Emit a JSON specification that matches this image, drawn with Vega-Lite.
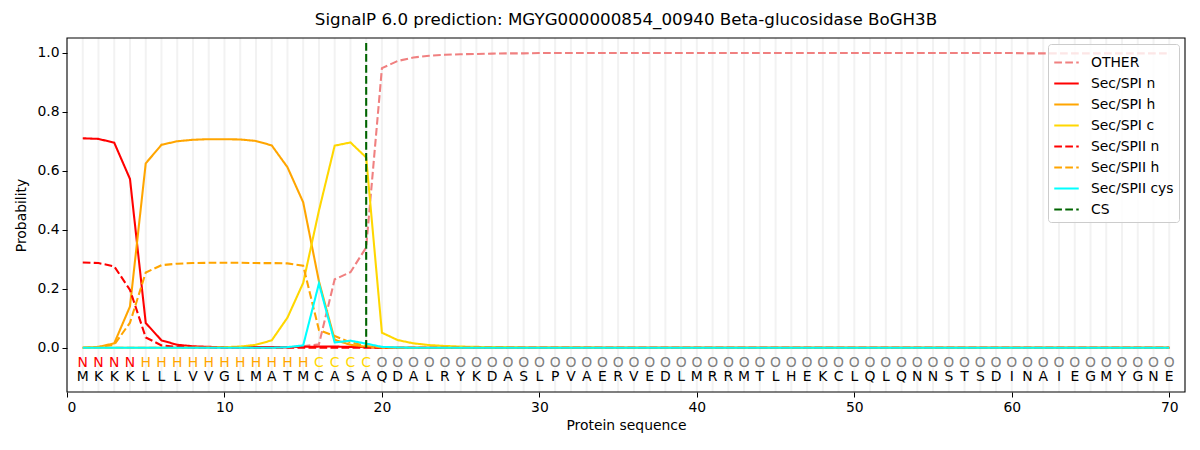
{
  "$schema": "https://vega.github.io/schema/vega-lite/v6.json",
  "autosize": "none",
  "width": 1118,
  "height": 354,
  "padding": {"left": 67, "top": 38, "right": 15, "bottom": 58},
  "config": {
    "font": "DejaVu Sans",
    "view": {"stroke": null},
    "axis": {
      "grid": false,
      "domain": false,
      "labelFontSize": 13.9,
      "titleFontSize": 13.9,
      "titleFontWeight": "normal",
      "labelColor": "#000000",
      "titleColor": "#000000",
      "tickColor": "#000000",
      "tickSize": 5,
      "labelPadding": 3
    },
    "legend": {
      "orient": "top-right",
      "offset": 6,
      "strokeColor": "#CCCCCC",
      "fillColor": "rgba(255,255,255,0.8)",
      "cornerRadius": 3,
      "padding": 5,
      "labelFontSize": 13.9,
      "labelColor": "#000000",
      "symbolType": "stroke",
      "symbolSize": 600,
      "symbolStrokeWidth": 2.08,
      "rowPadding": 0,
      "labelOffset": 11,
      "zindex": 2
    }
  },
  "title": {"text": "SignalP 6.0 prediction: MGYG000000854_00940 Beta-glucosidase BoGH3B", "fontSize": 16.7, "fontWeight": "normal", "color": "#000000", "offset": 8},
  "data": {
    "values": [
      {"pos": 1, "aa": "M", "lab": "N", "OTHER": 0.0, "Sec/SPI n": 0.710, "Sec/SPI h": 0.000, "Sec/SPI c": 0.000, "Sec/SPII n": 0.289, "Sec/SPII h": 0.000, "Sec/SPII cys": 0.000},
      {"pos": 2, "aa": "K", "lab": "N", "OTHER": 0.0, "Sec/SPI n": 0.708, "Sec/SPI h": 0.003, "Sec/SPI c": 0.000, "Sec/SPII n": 0.287, "Sec/SPII h": 0.002, "Sec/SPII cys": 0.000},
      {"pos": 3, "aa": "K", "lab": "N", "OTHER": 0.0, "Sec/SPI n": 0.695, "Sec/SPI h": 0.015, "Sec/SPI c": 0.000, "Sec/SPII n": 0.276, "Sec/SPII h": 0.010, "Sec/SPII cys": 0.000},
      {"pos": 4, "aa": "K", "lab": "N", "OTHER": 0.0, "Sec/SPI n": 0.572, "Sec/SPI h": 0.140, "Sec/SPI c": 0.000, "Sec/SPII n": 0.196, "Sec/SPII h": 0.085, "Sec/SPII cys": 0.000},
      {"pos": 5, "aa": "L", "lab": "H", "OTHER": 0.0, "Sec/SPI n": 0.084, "Sec/SPI h": 0.625, "Sec/SPI c": 0.000, "Sec/SPII n": 0.035, "Sec/SPII h": 0.255, "Sec/SPII cys": 0.000},
      {"pos": 6, "aa": "L", "lab": "H", "OTHER": 0.0, "Sec/SPI n": 0.025, "Sec/SPI h": 0.688, "Sec/SPI c": 0.000, "Sec/SPII n": 0.008, "Sec/SPII h": 0.280, "Sec/SPII cys": 0.000},
      {"pos": 7, "aa": "L", "lab": "H", "OTHER": 0.0, "Sec/SPI n": 0.010, "Sec/SPI h": 0.700, "Sec/SPI c": 0.000, "Sec/SPII n": 0.003, "Sec/SPII h": 0.285, "Sec/SPII cys": 0.000},
      {"pos": 8, "aa": "V", "lab": "H", "OTHER": 0.0, "Sec/SPI n": 0.005, "Sec/SPI h": 0.705, "Sec/SPI c": 0.001, "Sec/SPII n": 0.001, "Sec/SPII h": 0.287, "Sec/SPII cys": 0.000},
      {"pos": 9, "aa": "V", "lab": "H", "OTHER": 0.0, "Sec/SPI n": 0.003, "Sec/SPI h": 0.707, "Sec/SPI c": 0.001, "Sec/SPII n": 0.001, "Sec/SPII h": 0.288, "Sec/SPII cys": 0.000},
      {"pos": 10, "aa": "G", "lab": "H", "OTHER": 0.0, "Sec/SPI n": 0.002, "Sec/SPI h": 0.707, "Sec/SPI c": 0.002, "Sec/SPII n": 0.000, "Sec/SPII h": 0.288, "Sec/SPII cys": 0.000},
      {"pos": 11, "aa": "L", "lab": "H", "OTHER": 0.0, "Sec/SPI n": 0.002, "Sec/SPI h": 0.706, "Sec/SPI c": 0.004, "Sec/SPII n": 0.000, "Sec/SPII h": 0.288, "Sec/SPII cys": 0.000},
      {"pos": 12, "aa": "M", "lab": "H", "OTHER": 0.0, "Sec/SPI n": 0.002, "Sec/SPI h": 0.701, "Sec/SPI c": 0.010, "Sec/SPII n": 0.000, "Sec/SPII h": 0.287, "Sec/SPII cys": 0.000},
      {"pos": 13, "aa": "A", "lab": "H", "OTHER": 0.0, "Sec/SPI n": 0.002, "Sec/SPI h": 0.686, "Sec/SPI c": 0.025, "Sec/SPII n": 0.000, "Sec/SPII h": 0.287, "Sec/SPII cys": 0.000},
      {"pos": 14, "aa": "T", "lab": "H", "OTHER": 0.001, "Sec/SPI n": 0.002, "Sec/SPI h": 0.612, "Sec/SPI c": 0.102, "Sec/SPII n": 0.000, "Sec/SPII h": 0.286, "Sec/SPII cys": 0.002},
      {"pos": 15, "aa": "M", "lab": "H", "OTHER": 0.005, "Sec/SPI n": 0.003, "Sec/SPI h": 0.493, "Sec/SPI c": 0.220, "Sec/SPII n": 0.000, "Sec/SPII h": 0.278, "Sec/SPII cys": 0.008},
      {"pos": 16, "aa": "C", "lab": "C", "OTHER": 0.012, "Sec/SPI n": 0.004, "Sec/SPI h": 0.225, "Sec/SPI c": 0.465, "Sec/SPII n": 0.000, "Sec/SPII h": 0.060, "Sec/SPII cys": 0.218},
      {"pos": 17, "aa": "A", "lab": "C", "OTHER": 0.232, "Sec/SPI n": 0.004, "Sec/SPI h": 0.027, "Sec/SPI c": 0.685, "Sec/SPII n": 0.000, "Sec/SPII h": 0.040, "Sec/SPII cys": 0.018},
      {"pos": 18, "aa": "S", "lab": "C", "OTHER": 0.256, "Sec/SPI n": 0.003, "Sec/SPI h": 0.010, "Sec/SPI c": 0.696, "Sec/SPII n": 0.000, "Sec/SPII h": 0.018, "Sec/SPII cys": 0.024},
      {"pos": 19, "aa": "A", "lab": "C", "OTHER": 0.340, "Sec/SPI n": 0.002, "Sec/SPI h": 0.003, "Sec/SPI c": 0.645, "Sec/SPII n": 0.000, "Sec/SPII h": 0.006, "Sec/SPII cys": 0.014},
      {"pos": 20, "aa": "Q", "lab": "O", "OTHER": 0.948, "Sec/SPI n": 0.000, "Sec/SPI h": 0.000, "Sec/SPI c": 0.051, "Sec/SPII n": 0.000, "Sec/SPII h": 0.001, "Sec/SPII cys": 0.003},
      {"pos": 21, "aa": "D", "lab": "O", "OTHER": 0.972, "Sec/SPI n": 0.000, "Sec/SPI h": 0.000, "Sec/SPI c": 0.026, "Sec/SPII n": 0.000, "Sec/SPII h": 0.000, "Sec/SPII cys": 0.001},
      {"pos": 22, "aa": "A", "lab": "O", "OTHER": 0.984, "Sec/SPI n": 0.000, "Sec/SPI h": 0.000, "Sec/SPI c": 0.015, "Sec/SPII n": 0.000, "Sec/SPII h": 0.000, "Sec/SPII cys": 0.000},
      {"pos": 23, "aa": "L", "lab": "O", "OTHER": 0.990, "Sec/SPI n": 0.000, "Sec/SPI h": 0.000, "Sec/SPI c": 0.009, "Sec/SPII n": 0.000, "Sec/SPII h": 0.000, "Sec/SPII cys": 0.000},
      {"pos": 24, "aa": "R", "lab": "O", "OTHER": 0.993, "Sec/SPI n": 0.000, "Sec/SPI h": 0.000, "Sec/SPI c": 0.006, "Sec/SPII n": 0.000, "Sec/SPII h": 0.000, "Sec/SPII cys": 0.000},
      {"pos": 25, "aa": "Y", "lab": "O", "OTHER": 0.995, "Sec/SPI n": 0.000, "Sec/SPI h": 0.000, "Sec/SPI c": 0.004, "Sec/SPII n": 0.000, "Sec/SPII h": 0.000, "Sec/SPII cys": 0.000},
      {"pos": 26, "aa": "K", "lab": "O", "OTHER": 0.996, "Sec/SPI n": 0.000, "Sec/SPI h": 0.000, "Sec/SPI c": 0.003, "Sec/SPII n": 0.000, "Sec/SPII h": 0.000, "Sec/SPII cys": 0.000},
      {"pos": 27, "aa": "D", "lab": "O", "OTHER": 0.997, "Sec/SPI n": 0.000, "Sec/SPI h": 0.000, "Sec/SPI c": 0.002, "Sec/SPII n": 0.000, "Sec/SPII h": 0.000, "Sec/SPII cys": 0.000},
      {"pos": 28, "aa": "A", "lab": "O", "OTHER": 0.998, "Sec/SPI n": 0.000, "Sec/SPI h": 0.000, "Sec/SPI c": 0.002, "Sec/SPII n": 0.000, "Sec/SPII h": 0.000, "Sec/SPII cys": 0.000},
      {"pos": 29, "aa": "S", "lab": "O", "OTHER": 0.998, "Sec/SPI n": 0.000, "Sec/SPI h": 0.000, "Sec/SPI c": 0.001, "Sec/SPII n": 0.000, "Sec/SPII h": 0.000, "Sec/SPII cys": 0.000},
      {"pos": 30, "aa": "L", "lab": "O", "OTHER": 0.999, "Sec/SPI n": 0.000, "Sec/SPI h": 0.000, "Sec/SPI c": 0.001, "Sec/SPII n": 0.000, "Sec/SPII h": 0.000, "Sec/SPII cys": 0.000},
      {"pos": 31, "aa": "P", "lab": "O", "OTHER": 0.999, "Sec/SPI n": 0.000, "Sec/SPI h": 0.000, "Sec/SPI c": 0.001, "Sec/SPII n": 0.000, "Sec/SPII h": 0.000, "Sec/SPII cys": 0.000},
      {"pos": 32, "aa": "V", "lab": "O", "OTHER": 0.999, "Sec/SPI n": 0.000, "Sec/SPI h": 0.000, "Sec/SPI c": 0.001, "Sec/SPII n": 0.000, "Sec/SPII h": 0.000, "Sec/SPII cys": 0.000},
      {"pos": 33, "aa": "A", "lab": "O", "OTHER": 0.999, "Sec/SPI n": 0.000, "Sec/SPI h": 0.000, "Sec/SPI c": 0.001, "Sec/SPII n": 0.000, "Sec/SPII h": 0.000, "Sec/SPII cys": 0.000},
      {"pos": 34, "aa": "E", "lab": "O", "OTHER": 0.999, "Sec/SPI n": 0.000, "Sec/SPI h": 0.000, "Sec/SPI c": 0.000, "Sec/SPII n": 0.000, "Sec/SPII h": 0.000, "Sec/SPII cys": 0.000},
      {"pos": 35, "aa": "R", "lab": "O", "OTHER": 0.999, "Sec/SPI n": 0.000, "Sec/SPI h": 0.000, "Sec/SPI c": 0.000, "Sec/SPII n": 0.000, "Sec/SPII h": 0.000, "Sec/SPII cys": 0.000},
      {"pos": 36, "aa": "V", "lab": "O", "OTHER": 0.999, "Sec/SPI n": 0.000, "Sec/SPI h": 0.000, "Sec/SPI c": 0.000, "Sec/SPII n": 0.000, "Sec/SPII h": 0.000, "Sec/SPII cys": 0.000},
      {"pos": 37, "aa": "E", "lab": "O", "OTHER": 0.999, "Sec/SPI n": 0.000, "Sec/SPI h": 0.000, "Sec/SPI c": 0.000, "Sec/SPII n": 0.000, "Sec/SPII h": 0.000, "Sec/SPII cys": 0.000},
      {"pos": 38, "aa": "D", "lab": "O", "OTHER": 0.999, "Sec/SPI n": 0.000, "Sec/SPI h": 0.000, "Sec/SPI c": 0.000, "Sec/SPII n": 0.000, "Sec/SPII h": 0.000, "Sec/SPII cys": 0.000},
      {"pos": 39, "aa": "L", "lab": "O", "OTHER": 0.999, "Sec/SPI n": 0.000, "Sec/SPI h": 0.000, "Sec/SPI c": 0.000, "Sec/SPII n": 0.000, "Sec/SPII h": 0.000, "Sec/SPII cys": 0.000},
      {"pos": 40, "aa": "M", "lab": "O", "OTHER": 0.999, "Sec/SPI n": 0.000, "Sec/SPI h": 0.000, "Sec/SPI c": 0.000, "Sec/SPII n": 0.000, "Sec/SPII h": 0.000, "Sec/SPII cys": 0.000},
      {"pos": 41, "aa": "R", "lab": "O", "OTHER": 0.999, "Sec/SPI n": 0.000, "Sec/SPI h": 0.000, "Sec/SPI c": 0.000, "Sec/SPII n": 0.000, "Sec/SPII h": 0.000, "Sec/SPII cys": 0.000},
      {"pos": 42, "aa": "R", "lab": "O", "OTHER": 0.999, "Sec/SPI n": 0.000, "Sec/SPI h": 0.000, "Sec/SPI c": 0.000, "Sec/SPII n": 0.000, "Sec/SPII h": 0.000, "Sec/SPII cys": 0.000},
      {"pos": 43, "aa": "M", "lab": "O", "OTHER": 0.999, "Sec/SPI n": 0.000, "Sec/SPI h": 0.000, "Sec/SPI c": 0.000, "Sec/SPII n": 0.000, "Sec/SPII h": 0.000, "Sec/SPII cys": 0.000},
      {"pos": 44, "aa": "T", "lab": "O", "OTHER": 0.999, "Sec/SPI n": 0.000, "Sec/SPI h": 0.000, "Sec/SPI c": 0.000, "Sec/SPII n": 0.000, "Sec/SPII h": 0.000, "Sec/SPII cys": 0.000},
      {"pos": 45, "aa": "L", "lab": "O", "OTHER": 0.999, "Sec/SPI n": 0.000, "Sec/SPI h": 0.000, "Sec/SPI c": 0.000, "Sec/SPII n": 0.000, "Sec/SPII h": 0.000, "Sec/SPII cys": 0.000},
      {"pos": 46, "aa": "H", "lab": "O", "OTHER": 0.999, "Sec/SPI n": 0.000, "Sec/SPI h": 0.000, "Sec/SPI c": 0.000, "Sec/SPII n": 0.000, "Sec/SPII h": 0.000, "Sec/SPII cys": 0.000},
      {"pos": 47, "aa": "E", "lab": "O", "OTHER": 0.999, "Sec/SPI n": 0.000, "Sec/SPI h": 0.000, "Sec/SPI c": 0.000, "Sec/SPII n": 0.000, "Sec/SPII h": 0.000, "Sec/SPII cys": 0.000},
      {"pos": 48, "aa": "K", "lab": "O", "OTHER": 0.999, "Sec/SPI n": 0.000, "Sec/SPI h": 0.000, "Sec/SPI c": 0.000, "Sec/SPII n": 0.000, "Sec/SPII h": 0.000, "Sec/SPII cys": 0.000},
      {"pos": 49, "aa": "C", "lab": "O", "OTHER": 0.999, "Sec/SPI n": 0.000, "Sec/SPI h": 0.000, "Sec/SPI c": 0.000, "Sec/SPII n": 0.000, "Sec/SPII h": 0.000, "Sec/SPII cys": 0.000},
      {"pos": 50, "aa": "L", "lab": "O", "OTHER": 0.999, "Sec/SPI n": 0.000, "Sec/SPI h": 0.000, "Sec/SPI c": 0.000, "Sec/SPII n": 0.000, "Sec/SPII h": 0.000, "Sec/SPII cys": 0.000},
      {"pos": 51, "aa": "Q", "lab": "O", "OTHER": 0.999, "Sec/SPI n": 0.000, "Sec/SPI h": 0.000, "Sec/SPI c": 0.000, "Sec/SPII n": 0.000, "Sec/SPII h": 0.000, "Sec/SPII cys": 0.000},
      {"pos": 52, "aa": "L", "lab": "O", "OTHER": 0.999, "Sec/SPI n": 0.000, "Sec/SPI h": 0.000, "Sec/SPI c": 0.000, "Sec/SPII n": 0.000, "Sec/SPII h": 0.000, "Sec/SPII cys": 0.000},
      {"pos": 53, "aa": "Q", "lab": "O", "OTHER": 0.999, "Sec/SPI n": 0.000, "Sec/SPI h": 0.000, "Sec/SPI c": 0.000, "Sec/SPII n": 0.000, "Sec/SPII h": 0.000, "Sec/SPII cys": 0.000},
      {"pos": 54, "aa": "N", "lab": "O", "OTHER": 0.999, "Sec/SPI n": 0.000, "Sec/SPI h": 0.000, "Sec/SPI c": 0.000, "Sec/SPII n": 0.000, "Sec/SPII h": 0.000, "Sec/SPII cys": 0.000},
      {"pos": 55, "aa": "N", "lab": "O", "OTHER": 0.999, "Sec/SPI n": 0.000, "Sec/SPI h": 0.000, "Sec/SPI c": 0.000, "Sec/SPII n": 0.000, "Sec/SPII h": 0.000, "Sec/SPII cys": 0.000},
      {"pos": 56, "aa": "S", "lab": "O", "OTHER": 0.999, "Sec/SPI n": 0.000, "Sec/SPI h": 0.000, "Sec/SPI c": 0.000, "Sec/SPII n": 0.000, "Sec/SPII h": 0.000, "Sec/SPII cys": 0.000},
      {"pos": 57, "aa": "T", "lab": "O", "OTHER": 0.999, "Sec/SPI n": 0.000, "Sec/SPI h": 0.000, "Sec/SPI c": 0.000, "Sec/SPII n": 0.000, "Sec/SPII h": 0.000, "Sec/SPII cys": 0.000},
      {"pos": 58, "aa": "S", "lab": "O", "OTHER": 0.999, "Sec/SPI n": 0.000, "Sec/SPI h": 0.000, "Sec/SPI c": 0.000, "Sec/SPII n": 0.000, "Sec/SPII h": 0.000, "Sec/SPII cys": 0.000},
      {"pos": 59, "aa": "D", "lab": "O", "OTHER": 0.999, "Sec/SPI n": 0.000, "Sec/SPI h": 0.000, "Sec/SPI c": 0.000, "Sec/SPII n": 0.000, "Sec/SPII h": 0.000, "Sec/SPII cys": 0.000},
      {"pos": 60, "aa": "I", "lab": "O", "OTHER": 0.999, "Sec/SPI n": 0.000, "Sec/SPI h": 0.000, "Sec/SPI c": 0.000, "Sec/SPII n": 0.000, "Sec/SPII h": 0.000, "Sec/SPII cys": 0.000},
      {"pos": 61, "aa": "N", "lab": "O", "OTHER": 0.998, "Sec/SPI n": 0.000, "Sec/SPI h": 0.000, "Sec/SPI c": 0.000, "Sec/SPII n": 0.000, "Sec/SPII h": 0.000, "Sec/SPII cys": 0.000},
      {"pos": 62, "aa": "A", "lab": "O", "OTHER": 0.998, "Sec/SPI n": 0.000, "Sec/SPI h": 0.000, "Sec/SPI c": 0.000, "Sec/SPII n": 0.000, "Sec/SPII h": 0.000, "Sec/SPII cys": 0.000},
      {"pos": 63, "aa": "I", "lab": "O", "OTHER": 0.998, "Sec/SPI n": 0.000, "Sec/SPI h": 0.000, "Sec/SPI c": 0.000, "Sec/SPII n": 0.000, "Sec/SPII h": 0.000, "Sec/SPII cys": 0.000},
      {"pos": 64, "aa": "E", "lab": "O", "OTHER": 0.998, "Sec/SPI n": 0.000, "Sec/SPI h": 0.000, "Sec/SPI c": 0.000, "Sec/SPII n": 0.000, "Sec/SPII h": 0.000, "Sec/SPII cys": 0.000},
      {"pos": 65, "aa": "G", "lab": "O", "OTHER": 0.998, "Sec/SPI n": 0.000, "Sec/SPI h": 0.000, "Sec/SPI c": 0.000, "Sec/SPII n": 0.000, "Sec/SPII h": 0.000, "Sec/SPII cys": 0.000},
      {"pos": 66, "aa": "M", "lab": "O", "OTHER": 0.998, "Sec/SPI n": 0.000, "Sec/SPI h": 0.000, "Sec/SPI c": 0.000, "Sec/SPII n": 0.000, "Sec/SPII h": 0.000, "Sec/SPII cys": 0.000},
      {"pos": 67, "aa": "Y", "lab": "O", "OTHER": 0.998, "Sec/SPI n": 0.000, "Sec/SPI h": 0.000, "Sec/SPI c": 0.000, "Sec/SPII n": 0.000, "Sec/SPII h": 0.000, "Sec/SPII cys": 0.000},
      {"pos": 68, "aa": "G", "lab": "O", "OTHER": 0.998, "Sec/SPI n": 0.000, "Sec/SPI h": 0.000, "Sec/SPI c": 0.000, "Sec/SPII n": 0.000, "Sec/SPII h": 0.000, "Sec/SPII cys": 0.000},
      {"pos": 69, "aa": "N", "lab": "O", "OTHER": 0.998, "Sec/SPI n": 0.000, "Sec/SPI h": 0.000, "Sec/SPI c": 0.000, "Sec/SPII n": 0.000, "Sec/SPII h": 0.000, "Sec/SPII cys": 0.000},
      {"pos": 70, "aa": "E", "lab": "O", "OTHER": 0.998, "Sec/SPI n": 0.000, "Sec/SPI h": 0.000, "Sec/SPI c": 0.000, "Sec/SPII n": 0.000, "Sec/SPII h": 0.000, "Sec/SPII cys": 0.000}
    ]
  },
  "encoding": {
    "x": {
      "field": "pos",
      "type": "quantitative",
      "scale": {"domain": [0, 71], "nice": false, "zero": false},
      "axis": {"title": "Protein sequence", "values": [0, 10, 20, 30, 40, 50, 60, 70], "titlePadding": 5}
    }
  },
  "layer": [
    {
      "mark": {"type": "rule", "color": "#F2F2F2", "strokeWidth": 2},
      "encoding": {
        "y": {"datum": -0.15},
        "y2": {"datum": 1.05}
      }
    },
    {
      "transform": [
        {"fold": ["OTHER", "Sec/SPI n", "Sec/SPI h", "Sec/SPI c", "Sec/SPII n", "Sec/SPII h", "Sec/SPII cys"], "as": ["series", "p"]}
      ],
      "mark": {"type": "line", "strokeWidth": 2.08},
      "encoding": {
        "y": {
          "field": "p",
          "type": "quantitative",
          "scale": {"domain": [-0.15, 1.05], "nice": false, "zero": false},
          "axis": {"title": "Probability", "values": [0, 0.2, 0.4, 0.6, 0.8, 1.0], "format": ".1f", "titlePadding": 8}
        },
        "color": {
          "field": "series",
          "type": "nominal",
          "title": null,
          "scale": {
            "domain": ["OTHER", "Sec/SPI n", "Sec/SPI h", "Sec/SPI c", "Sec/SPII n", "Sec/SPII h", "Sec/SPII cys", "CS"],
            "range": ["#F08080", "#FF0000", "#FFA500", "#FFD700", "#FF0000", "#FFA500", "#00FFFF", "#006400"]
          }
        },
        "strokeDash": {
          "field": "series",
          "type": "nominal",
          "title": null,
          "scale": {
            "domain": ["OTHER", "Sec/SPI n", "Sec/SPI h", "Sec/SPI c", "Sec/SPII n", "Sec/SPII h", "Sec/SPII cys", "CS"],
            "range": [[7.7, 3.3], [1, 0], [1, 0], [1, 0], [7.7, 3.3], [7.7, 3.3], [1, 0], [7.7, 3.3]]
          }
        },
        "order": {"field": "pos", "type": "quantitative"}
      }
    },
    {
      "data": {"values": [{"series": "CS", "cs": 19, "y0": 0, "y1": 1.035}]},
      "mark": {"type": "rule", "strokeWidth": 2.08},
      "encoding": {
        "x": {"field": "cs", "type": "quantitative"},
        "y": {"field": "y0", "type": "quantitative"},
        "y2": {"field": "y1"},
        "color": {"field": "series", "type": "nominal", "title": null},
        "strokeDash": {"field": "series", "type": "nominal", "title": null}
      }
    },
    {
      "mark": {"type": "text", "fontSize": 13.9, "baseline": "middle", "align": "center"},
      "encoding": {
        "y": {"datum": -0.05},
        "text": {"field": "lab"},
        "fill": {
          "field": "lab",
          "type": "nominal",
          "legend": null,
          "scale": {"domain": ["N", "H", "C", "O"], "range": ["#FF0000", "#FFA500", "#FFD700", "#808080"]}
        }
      }
    },
    {
      "mark": {"type": "text", "fontSize": 13.9, "baseline": "middle", "align": "center", "color": "#000000"},
      "encoding": {
        "y": {"datum": -0.1},
        "text": {"field": "aa"}
      }
    },
    {
      "data": {"values": [{"x0": 0, "x1": 71, "y0": -0.15, "y1": 1.05}]},
      "mark": {"type": "rect", "fill": null, "stroke": "#000000", "strokeWidth": 1.1},
      "encoding": {
        "x": {"field": "x0", "type": "quantitative"},
        "x2": {"field": "x1"},
        "y": {"field": "y0", "type": "quantitative"},
        "y2": {"field": "y1"}
      }
    }
  ]
}
